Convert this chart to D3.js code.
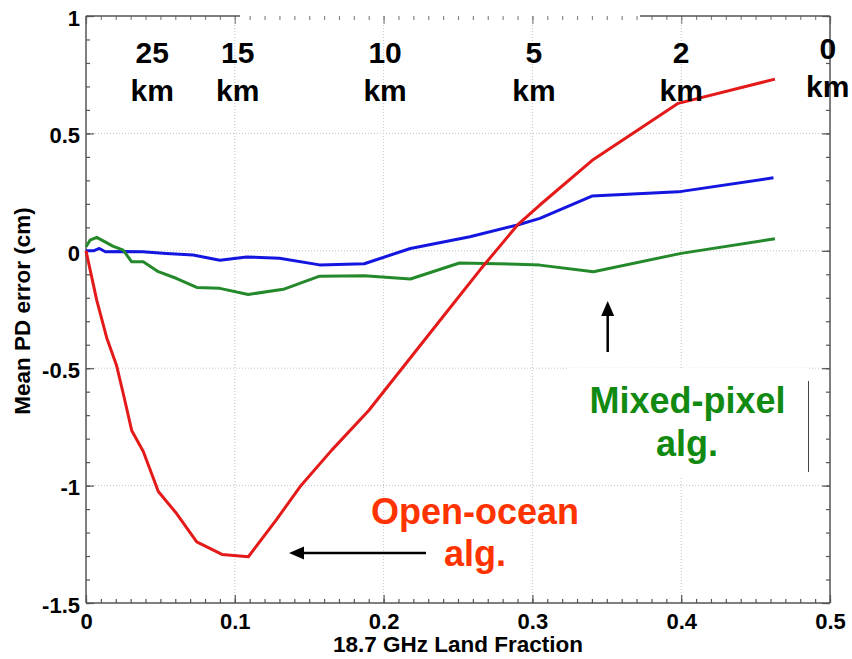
<!DOCTYPE html>
<html><head><meta charset="utf-8">
<script src="https://cdn.jsdelivr.net/npm/d3@7"></script>
<style>
body{margin:0;background:#fff}
svg{display:block}
text{font-family:"Liberation Sans",Arial,Helvetica,sans-serif;font-weight:bold}
</style>
</head><body>
<svg id="c" width="852" height="659"></svg>
<script>
// ---- data ----
const xTicks = [0, 0.1, 0.2, 0.3, 0.4, 0.5];
const yTicks = [-1.5, -1, -0.5, 0, 0.5, 1];
const gridX = [0.1, 0.2, 0.3, 0.4];
const gridY = [-1, -0.5, 0, 0.5];
const kmLabels = ["25", "15", "10", "5", "2", "0"];
const kmPos = [0.0445, 0.102, 0.201, 0.301, 0.400, 0.4985];

const openOcean = [
  [0, 0], [0.0072, -0.21], [0.0139, -0.37], [0.0206, -0.49], [0.0251, -0.61],
  [0.0307, -0.765], [0.0385, -0.855], [0.0486, -1.025], [0.061, -1.12],
  [0.0744, -1.24], [0.0914, -1.293], [0.1091, -1.303], [0.128, -1.145],
  [0.1438, -1.005], [0.165, -0.85], [0.19, -0.68], [0.215, -0.48],
  [0.24, -0.28], [0.265, -0.08], [0.29, 0.11], [0.305, 0.195],
  [0.341, 0.389], [0.398, 0.628], [0.463, 0.731]
];
const mixedPixel = [
  [0, 0.017], [0.0027, 0.045], [0.0072, 0.057], [0.0128, 0.038], [0.018, 0.02],
  [0.025, 0.003], [0.0307, -0.047], [0.0385, -0.047], [0.0486, -0.089],
  [0.061, -0.118], [0.0744, -0.156], [0.09, -0.16], [0.109, -0.186],
  [0.1326, -0.164], [0.157, -0.108], [0.187, -0.106], [0.218, -0.12],
  [0.251, -0.052], [0.29, -0.057], [0.305, -0.061], [0.341, -0.089],
  [0.40, -0.011], [0.463, 0.051]
];
const blueSeries = [
  [0, 0], [0.005, 0.0], [0.009, 0.01], [0.013, -0.004], [0.025, -0.003],
  [0.038, -0.004], [0.054, -0.011], [0.072, -0.018], [0.09, -0.04],
  [0.108, -0.026], [0.13, -0.032], [0.157, -0.06], [0.187, -0.055],
  [0.218, 0.01], [0.258, 0.06], [0.29, 0.11], [0.305, 0.138],
  [0.34, 0.233], [0.398, 0.251], [0.462, 0.311]
];

// ---- scales ----
const svg = d3.select("#c");
const x = d3.scaleLinear().domain([0, 0.5]).range([86, 830]);
const y = d3.scaleLinear().domain([-1.5, 1]).range([603, 16]);
const axisColor = "#555";
const minorX = d3.range(0, 0.5001, 0.01);
const minorY = d3.range(-1.5, 1.0001, 0.1);

// gridlines
const g = svg.append("g");
g.selectAll(".gx").data(gridX).join("line")
  .attr("x1", d => x(d)).attr("x2", d => x(d)).attr("y1", y(1)).attr("y2", y(-1.5))
  .attr("stroke", "#c4c4c4").attr("stroke-width", 1).attr("stroke-dasharray", "1,2");
g.selectAll(".gy").data(gridY).join("line")
  .attr("y1", d => y(d)).attr("y2", d => y(d)).attr("x1", x(0)).attr("x2", x(0.5))
  .attr("stroke", "#c4c4c4").attr("stroke-width", 1).attr("stroke-dasharray", "1,2");

// white label box for mixed-pixel annotation
svg.append("rect").attr("x", 567).attr("y", 368).attr("width", 241).attr("height", 109).attr("fill", "#fff");
svg.append("line").attr("x1", 808.5).attr("x2", 808.5).attr("y1", 381).attr("y2", 472)
  .attr("stroke", "#444").attr("stroke-width", 1);

// axes (ticks inward)
function styleAxis(sel) {
  sel.select(".domain").remove();
  sel.selectAll(".tick line").attr("stroke", axisColor).attr("stroke-width", 1.2);
  sel.selectAll("text").attr("fill", "#000").attr("font-size", 22)
    .attr("font-family", '"Liberation Sans",Arial,sans-serif').attr("font-weight", "bold");
}
svg.append("g").attr("transform", `translate(0,${y(-1.5)})`)
  .call(d3.axisBottom(x).tickValues(minorX).tickSize(-4).tickFormat(""))
  .call(styleAxis);
svg.append("g").attr("transform", `translate(0,${y(-1.5)})`)
  .call(d3.axisBottom(x).tickValues(xTicks).tickSize(-8).tickPadding(10).tickFormat(d => String(d)))
  .call(styleAxis);
svg.append("g").attr("transform", `translate(0,${y(1)})`)
  .call(d3.axisTop(x).tickValues(minorX).tickSize(-4).tickFormat(""))
  .call(styleAxis)
  .call(s => s.selectAll(".tick line").attr("stroke", "#888"));
svg.append("g").attr("transform", `translate(0,${y(1)})`)
  .call(d3.axisTop(x).tickValues(xTicks).tickSize(-8).tickFormat(""))
  .call(styleAxis)
  .call(s => s.selectAll(".tick line").attr("stroke", "#888"));
svg.append("g").attr("transform", `translate(${x(0)},0)`)
  .call(d3.axisLeft(y).tickValues(minorY).tickSize(-4).tickFormat(""))
  .call(styleAxis);
const yAx = svg.append("g").attr("transform", `translate(${x(0)},0)`)
  .call(d3.axisLeft(y).tickValues(yTicks).tickSize(-8).tickPadding(6).tickFormat(d => String(d)))
  .call(styleAxis);
yAx.selectAll("text").attr("dy", "0.42em");
svg.append("g").attr("transform", `translate(${x(0.5)},0)`)
  .call(d3.axisRight(y).tickValues(minorY).tickSize(-4).tickFormat(""))
  .call(styleAxis);
svg.append("g").attr("transform", `translate(${x(0.5)},0)`)
  .call(d3.axisRight(y).tickValues(yTicks).tickSize(-8).tickFormat(""))
  .call(styleAxis);

// frame (top border partly hidden by label box in the original)
const frame = svg.append("g").attr("stroke", axisColor).attr("stroke-width", 1.5).attr("fill", "none");
frame.append("line").attr("x1", x(0)).attr("x2", x(0)).attr("y1", y(1)).attr("y2", y(-1.5));
frame.append("line").attr("x1", x(0.5)).attr("x2", x(0.5)).attr("y1", y(1)).attr("y2", y(-1.5));
frame.append("line").attr("x1", x(0)).attr("x2", x(0.5)).attr("y1", y(-1.5)).attr("y2", y(-1.5));
frame.append("line").attr("x1", x(0)).attr("x2", 240).attr("y1", y(1)).attr("y2", y(1));
frame.append("line").attr("x1", 640).attr("x2", x(0.5)).attr("y1", y(1)).attr("y2", y(1));

// lines
const line = d3.line().x(d => x(d[0])).y(d => y(d[1]));
svg.append("path").datum(blueSeries).attr("d", line).attr("fill", "none")
  .attr("stroke", "#1515e0").attr("stroke-width", 3).attr("stroke-linejoin", "round");
svg.append("path").datum(mixedPixel).attr("d", line).attr("fill", "none")
  .attr("stroke", "#24892a").attr("stroke-width", 3).attr("stroke-linejoin", "round");
svg.append("path").datum(openOcean).attr("d", line).attr("fill", "none")
  .attr("stroke", "#e41a1a").attr("stroke-width", 3).attr("stroke-linejoin", "round");

// km labels
const km = svg.append("g").attr("font-size", 30).attr("text-anchor", "middle").attr("fill", "#000");
kmLabels.forEach((t, i) => {
  const shift = i === kmLabels.length - 1 ? -4 : 0;
  km.append("text").attr("x", x(kmPos[i])).attr("y", 63 + shift).text(t);
  km.append("text").attr("x", x(kmPos[i])).attr("y", 101 + shift).text("km");
});

// axis titles
svg.append("text").attr("transform", "translate(30,311) rotate(-90)")
  .attr("text-anchor", "middle").attr("font-size", 22.5).text("Mean PD error (cm)");
svg.append("text").attr("x", 458).attr("y", 652)
  .attr("text-anchor", "middle").attr("font-size", 22.5).text("18.7 GHz Land Fraction");

// annotations
const oc = svg.append("g").attr("font-size", 36).attr("text-anchor", "middle").attr("fill", "#ff3300");
oc.append("text").attr("x", 475).attr("y", 524).text("Open-ocean");
oc.append("text").attr("x", 475).attr("y", 566).text("alg.");
const mp = svg.append("g").attr("font-size", 36).attr("text-anchor", "middle").attr("fill", "#128a12");
mp.append("text").attr("x", 687.5).attr("y", 413).text("Mixed-pixel");
mp.append("text").attr("x", 687).attr("y", 456).text("alg.");

// arrows
svg.append("line").attr("x1", 426).attr("x2", 300).attr("y1", 553).attr("y2", 553)
  .attr("stroke", "#000").attr("stroke-width", 2.5);
svg.append("path").attr("d", "M289,553 L304,546.5 L304,559.5 Z").attr("fill", "#000");
svg.append("line").attr("x1", 607.7).attr("x2", 607.7).attr("y1", 352).attr("y2", 312)
  .attr("stroke", "#000").attr("stroke-width", 2.5);
svg.append("path").attr("d", "M607.7,301 L601.2,316 L614.2,316 Z").attr("fill", "#000");
</script>
</body></html>
